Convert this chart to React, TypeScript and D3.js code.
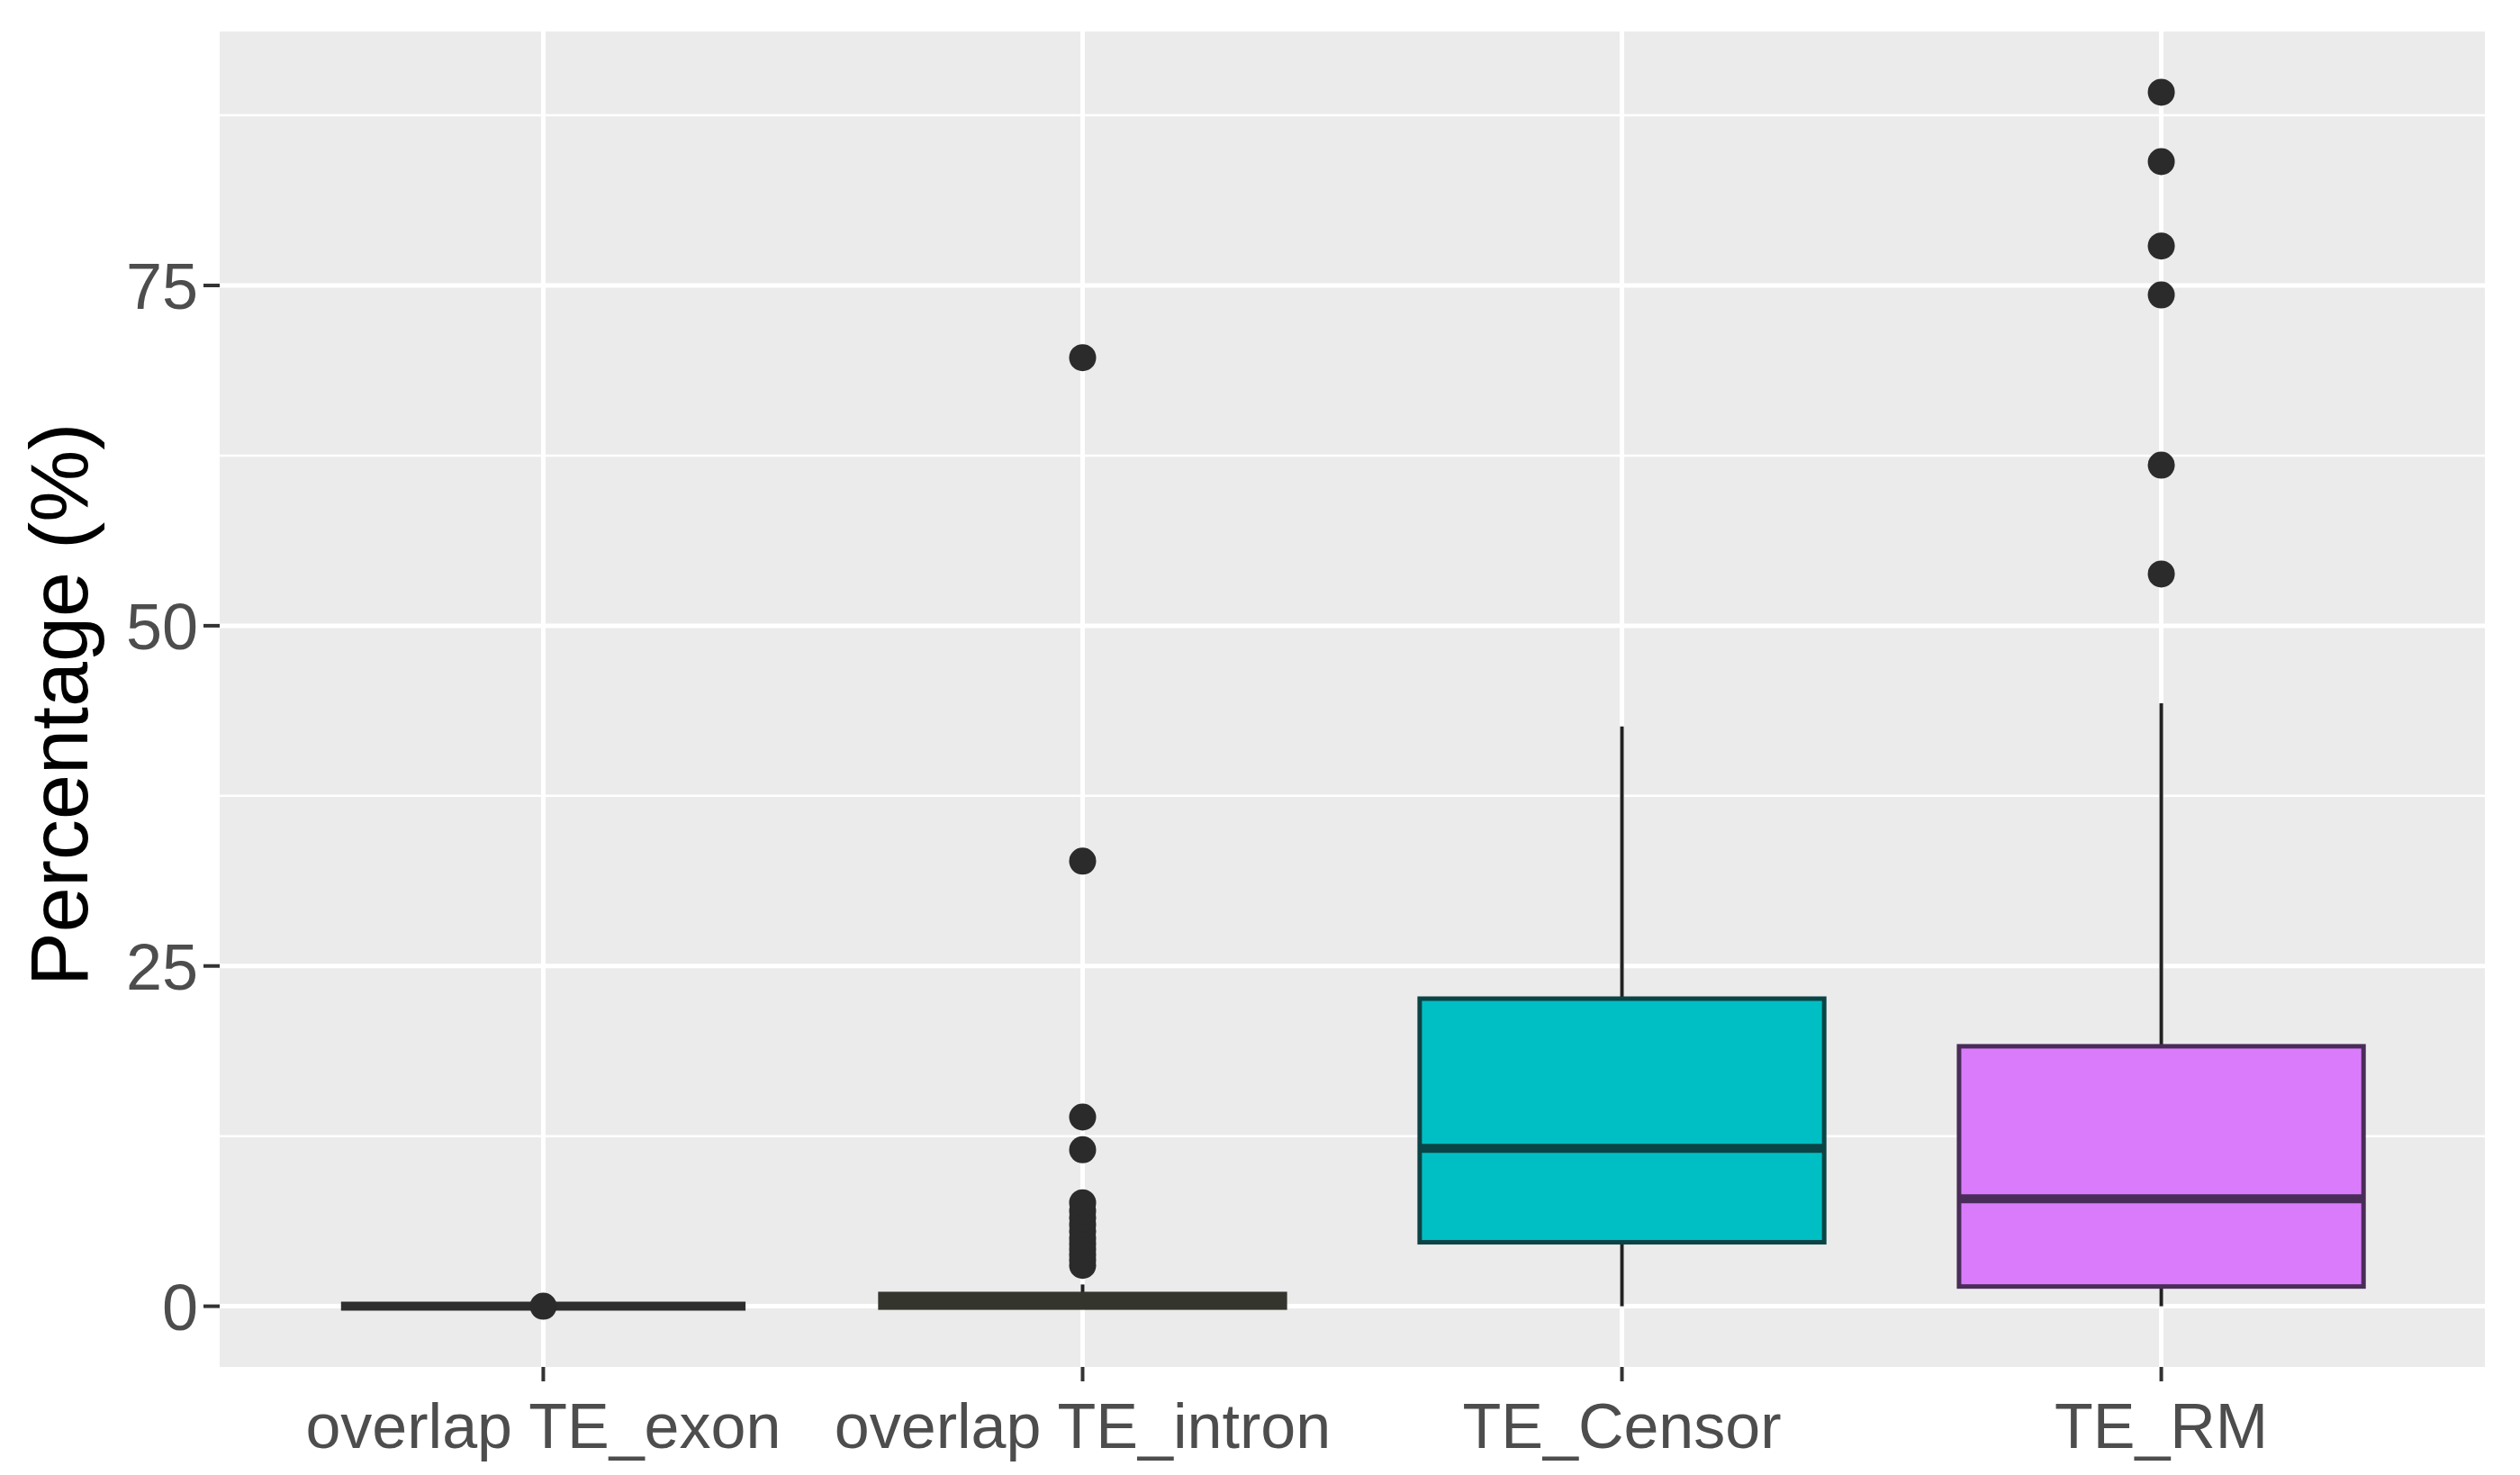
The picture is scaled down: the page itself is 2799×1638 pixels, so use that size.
import React from 'react';
import * as d3 from 'd3';

// categories and box statistics
const categories = ['overlap TE_exon', 'overlap TE_intron', 'TE_Censor', 'TE_RM'];
const lowerWhisker = [0, 0, 0, 0];
const q1 = [0, -0.1, 4.7, 1.45];
const medians = [0, 0.3, 11.6, 7.9];
const q3 = [0, 0.9, 22.6, 19.1];
const upperWhisker = [0, 1.6, 42.6, 44.3];
const outliers: number[][] = [
  [0],
  [3.0, 3.4, 3.8, 4.2, 4.6, 5.0, 5.5, 6.0, 6.5, 7.0, 7.6, 11.5, 13.9, 32.7, 69.7],
  [],
  [53.8, 61.8, 74.3, 77.9, 84.1, 89.2],
];
const yTicks = [0, 25, 50, 75];
const yMinor = [12.5, 37.5, 62.5, 87.5];

const fills = ['#2e2e2e', '#34362e', '#00bfc4', '#da7bfc'];
const strokes = ['#2e2e2e', '#34362e', '#0b4446', '#4a2c58'];

const W = 2799;
const H = 1638;
const panel = { left: 244, right: 2760, top: 35, bottom: 1518 };
const font = '"Liberation Sans", Arial, sans-serif';

export default function App() {
  const allVals = [...upperWhisker, ...lowerWhisker, ...outliers.flat()];
  const lo = d3.min(allVals) as number;
  const hi = d3.max(allVals) as number;
  const pad = (hi - lo) * 0.05;

  const y = d3.scaleLinear().domain([lo - pad, hi + pad]).range([panel.bottom, panel.top]);
  const x = d3.scalePoint<string>().domain(categories).range([panel.left, panel.right]).padding(0.6);
  const boxW = x.step() * 0.75;

  return (
    <svg width={W} height={H} style={{ position: 'absolute', left: 0, top: 0, background: '#fff' }}>
      <rect x={panel.left} y={panel.top} width={panel.right - panel.left} height={panel.bottom - panel.top} fill="#ebebeb" />
      {yMinor.map(t => (
        <line key={'mi' + t} x1={panel.left} x2={panel.right} y1={y(t)} y2={y(t)} stroke="#fff" strokeWidth={2.5} />
      ))}
      {yTicks.map(t => (
        <line key={'ma' + t} x1={panel.left} x2={panel.right} y1={y(t)} y2={y(t)} stroke="#fff" strokeWidth={5} />
      ))}
      {categories.map(c => (
        <line key={'vx' + c} x1={x(c)} x2={x(c)} y1={panel.top} y2={panel.bottom} stroke="#fff" strokeWidth={5} />
      ))}

      {categories.map((c, i) => {
        const cx = x(c) as number;
        return (
          <g key={'box' + c}>
            <line x1={cx} x2={cx} y1={y(upperWhisker[i])} y2={y(q3[i])} stroke="#222" strokeWidth={4} />
            <line x1={cx} x2={cx} y1={y(q1[i])} y2={y(lowerWhisker[i])} stroke="#222" strokeWidth={4} />
            <rect
              x={cx - boxW / 2}
              y={y(q3[i])}
              width={boxW}
              height={Math.max(0, y(q1[i]) - y(q3[i]))}
              fill={fills[i]}
              stroke={strokes[i]}
              strokeWidth={5}
            />
            <line x1={cx - boxW / 2} x2={cx + boxW / 2} y1={y(medians[i])} y2={y(medians[i])} stroke={strokes[i]} strokeWidth={10} />
            {outliers[i].map((v, j) => (
              <circle key={j} cx={cx} cy={y(v)} r={15} fill="#2b2b2b" />
            ))}
          </g>
        );
      })}

      {yTicks.map(t => (
        <g key={'yt' + t}>
          <line x1={panel.left - 18} x2={panel.left} y1={y(t)} y2={y(t)} stroke="#333" strokeWidth={4} />
          <text x={panel.left - 24} y={y(t)} dy="0.36em" textAnchor="end" fontFamily={font} fontSize={72} fill="#4d4d4d">
            {t}
          </text>
        </g>
      ))}
      {categories.map(c => (
        <g key={'xt' + c}>
          <line x1={x(c)} x2={x(c)} y1={panel.bottom} y2={panel.bottom + 16} stroke="#333" strokeWidth={4} />
          <text x={x(c)} y={1608} textAnchor="middle" fontFamily={font} fontSize={70} fill="#4d4d4d">
            {c}
          </text>
        </g>
      ))}
      <text
        transform={`translate(97,${(panel.top + panel.bottom) / 2 + 6}) rotate(-90)`}
        textAnchor="middle"
        fontFamily={font}
        fontSize={90}
        fill="#000"
      >
        Percentage (%)
      </text>
    </svg>
  );
}
